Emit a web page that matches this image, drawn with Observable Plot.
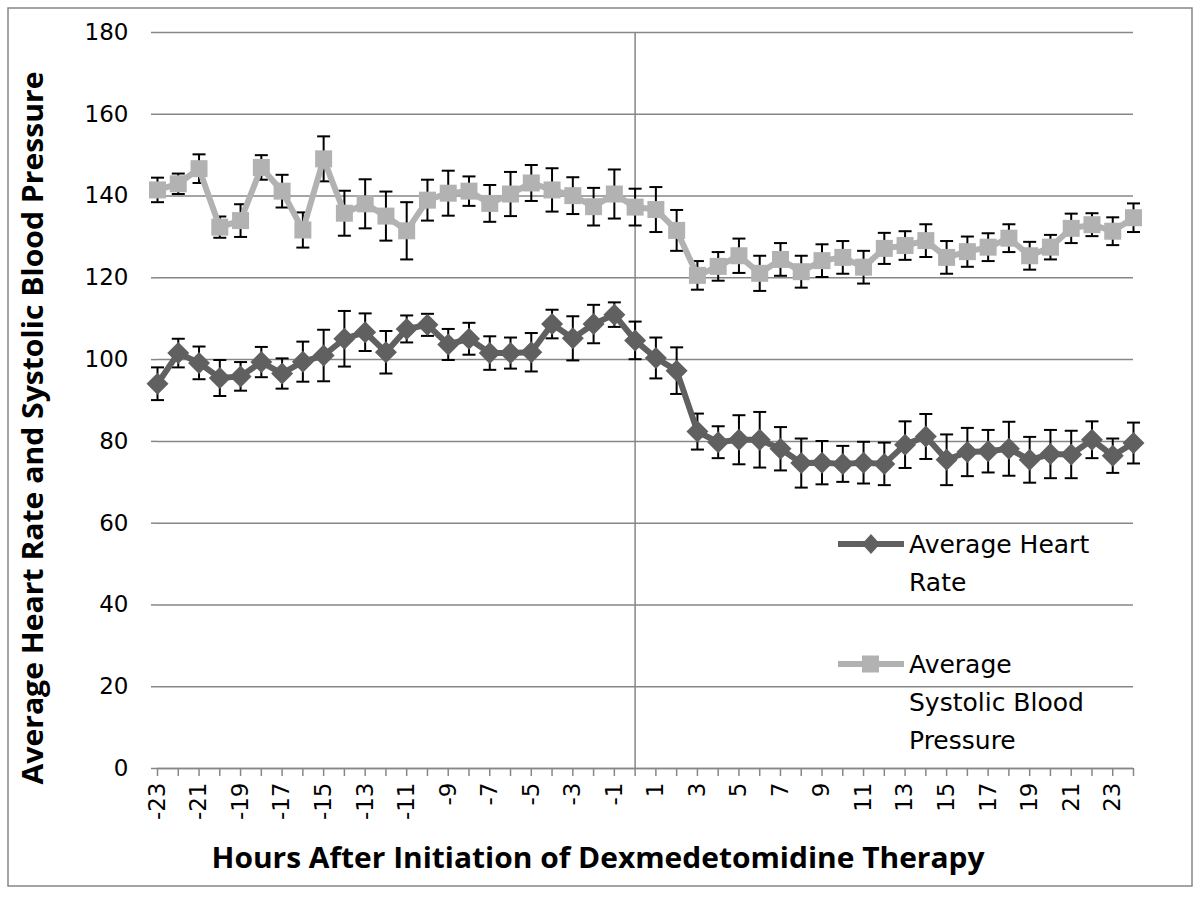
<!DOCTYPE html>
<html><head><meta charset="utf-8">
<script src="https://cdn.jsdelivr.net/npm/d3@7"></script>
<script src="https://cdn.jsdelivr.net/npm/@observablehq/plot@0.6"></script>
<style>body{margin:0;background:#fff}</style>
</head><body><div id="chart"></div>
<script>
// Hours relative to start of therapy (categories)
const hours = [-23,-22,-21,-20,-19,-18,-17,-16,-15,-14,-13,-12,-11,-10,-9,-8,-7,-6,-5,-4,-3,-2,-1,0,
               1,2,3,4,5,6,7,8,9,10,11,12,13,14,15,16,17,18,19,20,21,22,23,24];
// Average heart rate and its error
const heartRate = [94.1,101.6,99.2,95.5,95.9,99.4,96.6,99.5,101,105.1,106.7,101.8,
                   107.5,108.5,103.7,105.1,101.6,101.6,101.8,108.7,105.2,108.7,111,104.7,
                   100.4,97.3,82.4,79.8,80.4,80.4,78.2,74.7,74.8,74.5,74.8,74.5,
                   79.2,81.2,75.5,77.4,77.6,78.2,75.5,76.9,76.8,80.4,76.5,79.6];
const heartRateErr = [4,3.5,4,4.4,3.5,3.7,3.7,4.9,6.3,6.8,4.6,5.2,
                      3.3,2.7,3.8,3.9,4.1,3.8,4.7,3.5,5.4,4.7,3,4.6,
                      5,5.7,4.4,3.9,6,6.8,5.3,6,5.3,4.4,5.1,5.2,
                      5.7,5.5,6.2,5.9,5.2,6.6,5.6,5.9,5.8,4.5,4.2,5];
// Average systolic blood pressure and its error
const systolic = [141.5,143,146.7,132.4,134,147,141.2,131.7,149.1,135.8,138.1,135.1,
                  131.5,139,140.7,141.2,138.2,140.5,143.2,141.5,140.1,137.4,140.5,137.3,
                  136.7,131.6,120.6,122.8,125.4,121.1,124.5,121.5,124.2,125,122.6,127.2,
                  127.9,129.1,125,126.4,127.5,129.7,125.4,127.5,132.1,133,131.4,134.7];
const systolicErr = [3,2.5,3.5,2.6,4,3,4,4.3,5.5,5.5,6,6,
                     7,5,5.5,3.6,4.5,5.4,4.4,5.3,4.5,4.6,6,4.5,
                     5.5,5,3.5,3.5,4.2,4.3,4,3.9,4,4,4,3.8,
                     3.5,4,4,3.7,3.4,3.4,3.4,3,3.6,2.8,3.4,3.5];
const xTickLabels = [-23,-21,-19,-17,-15,-13,-11,-9,-7,-5,-3,-1,1,3,5,7,9,11,13,15,17,19,21,23];
const yTickLabels = [0,20,40,60,80,100,120,140,160,180];
const xTitle = "Hours After Initiation of Dexmedetomidine Therapy";
const yTitle = "Average Heart Rate and Systolic Blood Pressure";

const HR_COLOR = "#606060", SBP_COLOR = "#b2b2b2", GRID = "#878787";

const hrData = hours.map((h, i) => ({h, v: heartRate[i], e: heartRateErr[i]}));
const sbpData = hours.map((h, i) => ({h, v: systolic[i], e: systolicErr[i]}));

const cap = {draw(ctx, size) { const w = Math.sqrt(size / Math.PI); ctx.moveTo(-w, 0); ctx.lineTo(w, 0); }};
const diamond = {draw(ctx, size) { const r = Math.sqrt(size / Math.PI); ctx.moveTo(0, -r); ctx.lineTo(r, 0); ctx.lineTo(0, r); ctx.lineTo(-r, 0); ctx.closePath(); }};
const square = {draw(ctx, size) { const r = Math.sqrt(size / Math.PI); ctx.rect(-r, -r, 2 * r, 2 * r); }};

function errorMarks(data) {
  return [
    Plot.ruleX(data, {x: "h", y1: d => d.v - d.e, y2: d => d.v + d.e, stroke: "#000", strokeWidth: 2}),
    Plot.dot(data, {x: "h", y: d => d.v + d.e, symbol: cap, r: 6.5, stroke: "#000", strokeWidth: 2, fill: "none"}),
    Plot.dot(data, {x: "h", y: d => d.v - d.e, symbol: cap, r: 6.5, stroke: "#000", strokeWidth: 2, fill: "none"})
  ];
}

const chart = Plot.plot({
  width: 1200, height: 897,
  marginLeft: 157, marginRight: 67, marginTop: 32, marginBottom: 129,
  x: {domain: [-23, 24]},
  y: {domain: [0, 180]},
  style: {fontFamily: "'DejaVu Sans', sans-serif", fontSize: "23px", color: "#000", background: "#fff", overflow: "visible"},
  marks: [
    Plot.gridY(yTickLabels, {stroke: GRID, strokeOpacity: 1, strokeWidth: 1.5}),
    Plot.ruleX([0], {stroke: GRID, strokeWidth: 1.5}),
    Plot.axisY(yTickLabels, {tickSize: 6, tickPadding: 23, stroke: GRID, strokeWidth: 1.5, label: null, fill: "#000", tickFormat: d => String(d)}),
    Plot.axisX(hours, {tickSize: 8, tickFormat: () => "", stroke: GRID, strokeWidth: 1.5, label: null}),
    Plot.axisX(xTickLabels, {tickSize: 0, tickPadding: 14, tickRotate: -90, label: null, fill: "#000", tickFormat: d => String(d)}),
    Plot.ruleY([0], {stroke: GRID, strokeWidth: 1.5}),
    ...errorMarks(hrData),
    Plot.line(hrData, {x: "h", y: "v", stroke: HR_COLOR, strokeWidth: 6}),
    Plot.dot(hrData, {x: "h", y: "v", symbol: diamond, r: 11, fill: HR_COLOR, stroke: "none"}),
    ...errorMarks(sbpData),
    Plot.line(sbpData, {x: "h", y: "v", stroke: SBP_COLOR, strokeWidth: 6}),
    Plot.dot(sbpData, {x: "h", y: "v", symbol: square, r: 8.5, fill: SBP_COLOR, stroke: "none"})
  ]
});

const svg = d3.select(chart);
// outer border
svg.append("rect").attr("x", 8).attr("y", 8).attr("width", 1184).attr("height", 878)
  .attr("fill", "none").attr("stroke", GRID).attr("stroke-width", 1.5);

const titleFont = "'Open Sans', sans-serif";
svg.append("text").attr("x", 598).attr("y", 868).attr("text-anchor", "middle")
  .attr("font-family", titleFont).attr("font-weight", "bold").attr("font-size", 29)
  .attr("textLength", 773).attr("lengthAdjust", "spacingAndGlyphs").text(xTitle);
svg.append("text").attr("transform", "translate(43,428) rotate(-90)").attr("text-anchor", "middle")
  .attr("font-family", titleFont).attr("font-weight", "bold").attr("font-size", 29)
  .attr("textLength", 713).attr("lengthAdjust", "spacingAndGlyphs").text(yTitle);

// legend
const lg = svg.append("g").attr("font-family", "'DejaVu Sans', sans-serif").attr("font-size", 25)
  .attr("text-anchor", "start").attr("fill", "#000");
function legendItem(y, color, sym, lines, lineY) {
  lg.append("line").attr("x1", 838).attr("x2", 904).attr("y1", y).attr("y2", y)
    .attr("stroke", color).attr("stroke-width", 6);
  if (sym === "diamond") {
    lg.append("path").attr("d", `M871,${y-10}L880,${y}L871,${y+10}L862,${y}Z`).attr("fill", color);
  } else {
    lg.append("rect").attr("x", 862).attr("y", y - 8.5).attr("width", 17).attr("height", 17).attr("fill", color);
  }
  lines.forEach((t, i) => lg.append("text").attr("x", 909).attr("y", lineY[i]).text(t));
}
legendItem(544, HR_COLOR, "diamond", ["Average Heart", "Rate"], [553, 591]);
legendItem(664, SBP_COLOR, "square", ["Average", "Systolic Blood", "Pressure"], [673, 711, 749]);

document.getElementById("chart").append(chart);
</script>
</body></html>
